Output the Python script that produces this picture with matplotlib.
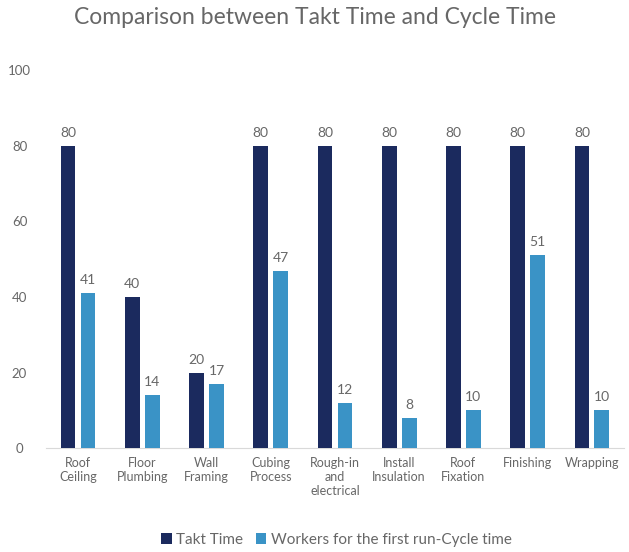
import numpy as np
import matplotlib
matplotlib.use("Agg")
import matplotlib.pyplot as plt

plt.rcParams["font.family"] = ["Lato", "DejaVu Sans"]

# ─── Data ────────────────────────────────────────────────────────────────────
categories = ["Roof\nCeiling", "Floor\nPlumbing", "Wall\nFraming", "Cubing\nProcess",
              "Rough-in\nand\nelectrical", "Install\nInsulation", "Roof\nFixation",
              "Finishing", "Wrapping"]
takt_time  = [80, 40, 20, 80, 80, 80, 80, 80, 80]
cycle_time = [41, 14, 17, 47, 12, 8, 10, 51, 10]

TAKT_COLOR  = "#1B2A5E"
CYCLE_COLOR = "#3A93C6"
TEXT_COLOR  = "#676767"

fig = plt.figure(figsize=(6.29, 5.52), dpi=100)
ax = fig.add_axes([0.073, 0.188, 0.919, 0.685])

x = np.arange(len(categories))
width = 0.23
off = 0.155
b1 = ax.bar(x - off, takt_time, width, color=TAKT_COLOR, label="Takt Time", zorder=3)
b2 = ax.bar(x + off, cycle_time, width, color=CYCLE_COLOR,
            label="Workers for the first run-Cycle time", zorder=3)

for bars in (b1, b2):
    for bar in bars:
        h = bar.get_height()
        ax.annotate(f"{h:.0f}", xy=(bar.get_x() + bar.get_width() / 2, h),
                    xytext=(0, 5), textcoords="offset points",
                    ha="center", va="bottom", fontsize=10, color=TEXT_COLOR)

ax.set_ylim(0, 100)
ax.set_xlim(-0.5, len(categories) - 0.5)
ax.set_yticks(range(0, 101, 20))
ax.set_xticks(x)
ax.set_xticklabels(categories, fontsize=9, color=TEXT_COLOR, linespacing=1.2)
ax.tick_params(axis="both", length=0, colors=TEXT_COLOR)
ax.tick_params(axis="y", labelsize=9.5, pad=19)
ax.tick_params(axis="x", pad=6)
for lbl in ax.get_yticklabels():
    lbl.set_horizontalalignment("center")

for s in ("top", "right", "left"):
    ax.spines[s].set_visible(False)
ax.spines["bottom"].set_color("#D9D9D9")

fig.suptitle("Comparison between Takt Time and Cycle Time", fontsize=16.5,
             color=TEXT_COLOR, y=0.987)

fig.legend(loc="center", bbox_to_anchor=(0.535, 0.022), ncol=2, frameon=False,
           fontsize=11, handlelength=0.7, handleheight=0.7, handletextpad=0.3,
           columnspacing=0.8, labelcolor=TEXT_COLOR)

fig.savefig("out.png", dpi=100)
